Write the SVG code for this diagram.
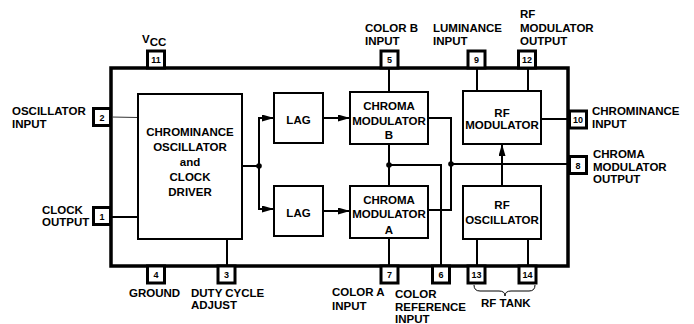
<svg xmlns="http://www.w3.org/2000/svg" width="694" height="324" viewBox="0 0 694 324">
<style>
text{font-family:"Liberation Sans",Arial,sans-serif;font-weight:bold;fill:#000}
.lbl{font-size:11.5px}
.box{font-size:11.5px;text-anchor:middle}
.pn{font-size:9px;text-anchor:middle}
.blk{fill:#fff;stroke:#000;stroke-width:2}
.pin{fill:#fff;stroke:#000;stroke-width:3}
.ln{fill:none;stroke:#000;stroke-width:2}
.dot{fill:#000}
</style>
<defs>
<marker id="arr" markerUnits="userSpaceOnUse" markerWidth="13" markerHeight="8" refX="12" refY="3.5" orient="auto">
<path d="M0,0 L12,3.5 L0,7 z" fill="#000"/>
</marker>
</defs>
<rect id="chip" x="111" y="68" width="457" height="198" fill="#fff" stroke="#000" stroke-width="3.5"/>
<g id="connectors">
<line x1="111" y1="117" x2="138" y2="117.5" stroke="#333" stroke-width="1"/>
<line class="ln" x1="111" y1="217" x2="138" y2="217"/>
<line class="ln" x1="227" y1="239" x2="227" y2="266"/>
<polyline class="ln" points="242,166 259,166"/>
<polyline class="ln" points="272,118 259,118 259,209 272,209" style="stroke-width:2"/>
<line class="ln" x1="259" y1="118" x2="274" y2="118" marker-end="url(#arr)"/>
<line class="ln" x1="259" y1="209" x2="274" y2="209" marker-end="url(#arr)"/>
<circle class="dot" cx="259" cy="166" r="2.8"/>
<line class="ln" x1="323" y1="118" x2="350" y2="118" marker-end="url(#arr)"/>
<line class="ln" x1="323" y1="211" x2="350" y2="211" marker-end="url(#arr)"/>
<line class="ln" x1="389" y1="68" x2="389" y2="92"/>
<line class="ln" x1="389" y1="144" x2="389" y2="186"/>
<line class="ln" x1="389" y1="238" x2="389" y2="266"/>
<polyline class="ln" points="389,165 441,165 441,266"/>
<circle class="dot" cx="389" cy="165" r="2.8"/>
<polyline class="ln" points="428,118 451,118 451,210 428,210"/>
<line class="ln" x1="451" y1="164" x2="568" y2="164"/>
<circle class="dot" cx="451" cy="164" r="2.8"/>
<line class="ln" x1="477" y1="68" x2="477" y2="91"/>
<line class="ln" x1="528" y1="68" x2="528" y2="91"/>
<line class="ln" x1="541" y1="119" x2="568" y2="119"/>
<line class="ln" x1="502" y1="186" x2="502" y2="144" marker-end="url(#arr)"/>
<line class="ln" x1="477" y1="239" x2="477" y2="266"/>
<line class="ln" x1="528" y1="239" x2="528" y2="266"/>
<path d="M474,285 Q474,291 480,291 L499,291 Q505,291 505,296 Q505,291 511,291 L529,291 Q535,291 535,285" fill="none" stroke="#000" stroke-width="1"/>
</g>
<g id="osc">
<rect class="blk" x="138" y="94" width="104" height="145"/>
<text class="box" x="190" y="136">CHROMINANCE</text>
<text class="box" x="190" y="151">OSCILLATOR</text>
<text class="box" x="190" y="166">and</text>
<text class="box" x="190" y="181">CLOCK</text>
<text class="box" x="190" y="195.5">DRIVER</text>
</g>
<g id="lagB">
<rect class="blk" x="274" y="93" width="49" height="50"/>
<text class="box" x="298.5" y="124">LAG</text>
</g>
<g id="lagA">
<rect class="blk" x="274" y="186" width="49" height="50"/>
<text class="box" x="298.5" y="217">LAG</text>
</g>
<g id="modB">
<rect class="blk" x="350" y="92" width="78" height="52"/>
<text class="box" x="389" y="110">CHROMA</text>
<text class="box" x="389" y="125">MODULATOR</text>
<text class="box" x="389" y="139">B</text>
</g>
<g id="modA">
<rect class="blk" x="350" y="186" width="78" height="52"/>
<text class="box" x="389" y="204">CHROMA</text>
<text class="box" x="389" y="218">MODULATOR</text>
<text class="box" x="389" y="234">A</text>
</g>
<g id="rfmod">
<rect class="blk" x="463" y="91" width="78" height="53"/>
<text class="box" x="502" y="117">RF</text>
<text class="box" x="502" y="129">MODULATOR</text>
</g>
<g id="rfosc">
<rect class="blk" x="463" y="186" width="78" height="53"/>
<text class="box" x="502" y="209">RF</text>
<text class="box" x="502" y="224">OSCILLATOR</text>
</g>
<g id="pin11">
<rect class="pin" x="147.5" y="51" width="17" height="17"/>
<text class="pn" x="156" y="63">11</text>
<text class="lbl" x="142" y="43">V<tspan dy="2.5">CC</tspan></text>
</g>
<g id="pin5">
<rect class="pin" x="381" y="51" width="17" height="17"/>
<text class="pn" x="389.5" y="63">5</text>
<text class="lbl" x="365" y="32">COLOR B</text>
<text class="lbl" x="365" y="45">INPUT</text>
</g>
<g id="pin9">
<rect class="pin" x="468" y="51" width="17" height="17"/>
<text class="pn" x="476.5" y="63">9</text>
<text class="lbl" x="433" y="32">LUMINANCE</text>
<text class="lbl" x="433" y="45">INPUT</text>
</g>
<g id="pin12">
<rect class="pin" x="518.5" y="51" width="17" height="17"/>
<text class="pn" x="527" y="63">12</text>
<text class="lbl" x="520" y="18">RF</text>
<text class="lbl" x="520" y="32">MODULATOR</text>
<text class="lbl" x="520" y="45">OUTPUT</text>
</g>
<g id="pin2">
<rect class="pin" x="93.5" y="108.5" width="17" height="17"/>
<text class="pn" x="102" y="120.5">2</text>
<text class="lbl" x="12" y="115">OSCILLATOR</text>
<text class="lbl" x="12" y="128">INPUT</text>
</g>
<g id="pin1">
<rect class="pin" x="93.5" y="207.5" width="17" height="17"/>
<text class="pn" x="102" y="219.5">1</text>
<text class="lbl" x="42" y="214">CLOCK</text>
<text class="lbl" x="42" y="226">OUTPUT</text>
</g>
<g id="pin10">
<rect class="pin" x="569.5" y="111" width="17" height="17"/>
<text class="pn" x="578" y="123">10</text>
<text class="lbl" x="592" y="115">CHROMINANCE</text>
<text class="lbl" x="592" y="128">INPUT</text>
</g>
<g id="pin8">
<rect class="pin" x="569.5" y="156.5" width="17" height="17"/>
<text class="pn" x="578" y="168.5">8</text>
<text class="lbl" x="593" y="158">CHROMA</text>
<text class="lbl" x="593" y="170.5">MODULATOR</text>
<text class="lbl" x="593" y="183">OUTPUT</text>
</g>
<g id="pin4">
<rect class="pin" x="147.5" y="266" width="17" height="17"/>
<text class="pn" x="156" y="278">4</text>
<text class="lbl" x="129" y="297">GROUND</text>
</g>
<g id="pin3">
<rect class="pin" x="218" y="266" width="17" height="17"/>
<text class="pn" x="226.5" y="278">3</text>
<text class="lbl" x="191" y="297">DUTY CYCLE</text>
<text class="lbl" x="191" y="309">ADJUST</text>
</g>
<g id="pin7">
<rect class="pin" x="381" y="266" width="17" height="17"/>
<text class="pn" x="389.5" y="278">7</text>
<text class="lbl" x="332" y="296">COLOR A</text>
<text class="lbl" x="332" y="310">INPUT</text>
</g>
<g id="pin6">
<rect class="pin" x="432.5" y="266" width="17" height="17"/>
<text class="pn" x="441" y="278">6</text>
<text class="lbl" x="395" y="298">COLOR</text>
<text class="lbl" x="395" y="311">REFERENCE</text>
<text class="lbl" x="395" y="323">INPUT</text>
</g>
<g id="pin13">
<rect class="pin" x="468" y="266" width="17" height="17"/>
<text class="pn" x="476.5" y="278">13</text>
</g>
<g id="pin14">
<rect class="pin" x="519" y="266" width="17" height="17"/>
<text class="pn" x="527.5" y="278">14</text>
<text class="lbl" x="481" y="307">RF TANK</text>
</g>
</svg>
